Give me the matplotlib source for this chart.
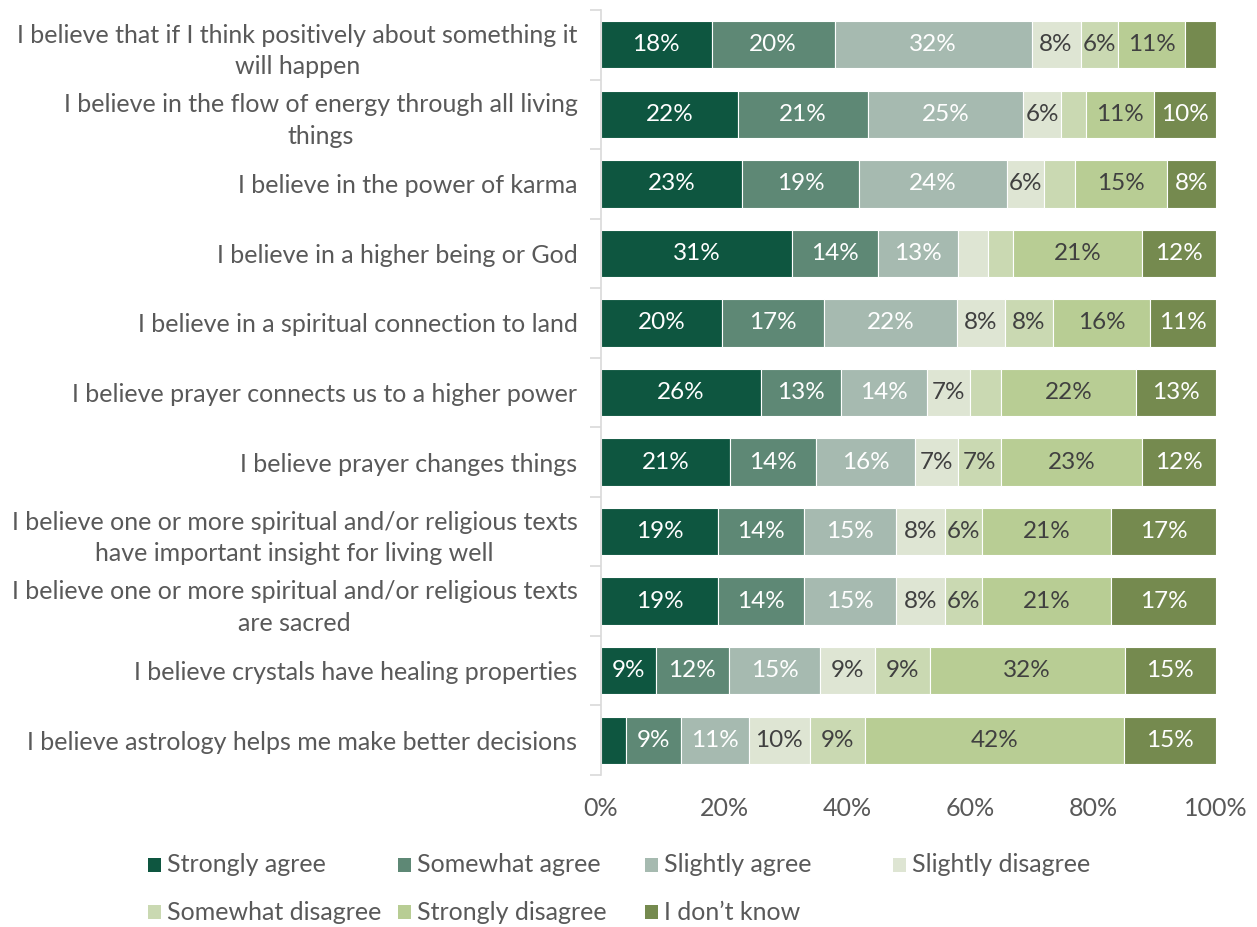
import numpy as np
import matplotlib.pyplot as plt
from matplotlib.patches import Rectangle

plt.rcParams['font.family'] = ['Lato', 'DejaVu Sans']

statements = [
    'I believe that if I think positively about something it\nwill happen',
    'I believe in the flow of energy through all living\nthings',
    'I believe in the power of karma',
    'I believe in a higher being or God',
    'I believe in a spiritual connection to land',
    'I believe prayer connects us to a higher power',
    'I believe prayer changes things',
    'I believe one or more spiritual and/or religious texts\nhave important insight for living well',
    'I believe one or more spiritual and/or religious texts\nare sacred',
    'I believe crystals have healing properties',
    'I believe astrology helps me make better decisions',
]

strongly_agree    = [18, 22, 23, 31, 20, 26, 21, 19, 19, 9, 4]
somewhat_agree    = [20, 21, 19, 14, 17, 13, 14, 14, 14, 12, 9]
slightly_agree    = [32, 25, 24, 13, 22, 14, 16, 15, 15, 15, 11]
slightly_disagree = [8, 6, 6, 5, 8, 7, 7, 8, 8, 9, 10]
somewhat_disagree = [6, 4, 5, 4, 8, 5, 7, 6, 6, 9, 9]
strongly_disagree = [11, 11, 15, 21, 16, 22, 23, 21, 21, 32, 42]
dont_know         = [5, 10, 8, 12, 11, 13, 12, 17, 17, 15, 15]

series = ['Strongly agree', 'Somewhat agree', 'Slightly agree', 'Slightly disagree',
          'Somewhat disagree', 'Strongly disagree', 'I don\u2019t know']
values = [strongly_agree, somewhat_agree, slightly_agree, slightly_disagree,
          somewhat_disagree, strongly_disagree, dont_know]
colors = ['#0e5640', '#5e8875', '#a6bab0', '#dee5d3', '#cad9b2', '#b8cd94', '#758a4f']
label_colors = ['white', 'white', 'white', '#404040', '#404040', '#404040', 'white']

gray = '#595959'

fig = plt.figure(figsize=(12.57, 9.27), dpi=100)
ax = fig.add_axes([601 / 1257, 1 - 775 / 927, 615 / 1257, 765 / 927])

y = np.arange(len(statements))
data = np.array(values, dtype=float)
# rounded shares don't always add to exactly 100, so scale each row to fill the bar
shares = data / data.sum(axis=0) * 100
left = np.zeros(len(statements))
for name, vals, widths, col, tcol in zip(series, data, shares, colors, label_colors):
    bars = ax.barh(y, widths, left=left, height=0.68, color=col, edgecolor='white',
                   linewidth=0.8, label=name)
    for b, v in zip(bars, vals):
        if v >= 6:
            ax.text(b.get_x() + b.get_width() / 2, b.get_y() + b.get_height() / 2,
                    f'{v:.0f}%', ha='center', va='center', color=tcol, fontsize=17.5)
    left += widths

ax.set_xlim(0, 100)
ax.set_ylim(len(statements) - 0.5, -0.5)
ax.set_xticks(np.arange(0, 101, 20))
ax.set_xticklabels([f'{t}%' for t in range(0, 101, 20)])
ax.set_yticks(y)
ax.set_yticklabels(statements, multialignment='center', linespacing=1.45)
ax.set_yticks(np.arange(-0.5, len(statements)), minor=True)

ax.tick_params(axis='x', length=0, labelsize=18, labelcolor=gray, pad=16)
ax.tick_params(axis='y', which='major', length=0, labelsize=18, labelcolor=gray, pad=17)
ax.tick_params(axis='y', which='minor', length=8, color='#d9d9d9', width=1.2)

for side in ['top', 'right', 'bottom']:
    ax.spines[side].set_visible(False)
ax.spines['left'].set_color('#d9d9d9')
ax.spines['left'].set_linewidth(1.2)

# legend laid out on a fixed grid, four entries per row
legend_x = [148, 398, 645, 893]
legend_y = [865, 912]
for i, (name, col) in enumerate(zip(series, colors)):
    px = legend_x[i % 4]
    py = legend_y[i // 4]
    fig.patches.append(Rectangle((px / 1257, 1 - (py + 7) / 927), 13 / 1257, 14 / 927,
                                 transform=fig.transFigure, facecolor=col, edgecolor='none'))
    fig.text((px + 19) / 1257, 1 - py / 927, name, ha='left', va='center',
             fontsize=18, color=gray)

fig.savefig('out.png', dpi=100, facecolor='white')
